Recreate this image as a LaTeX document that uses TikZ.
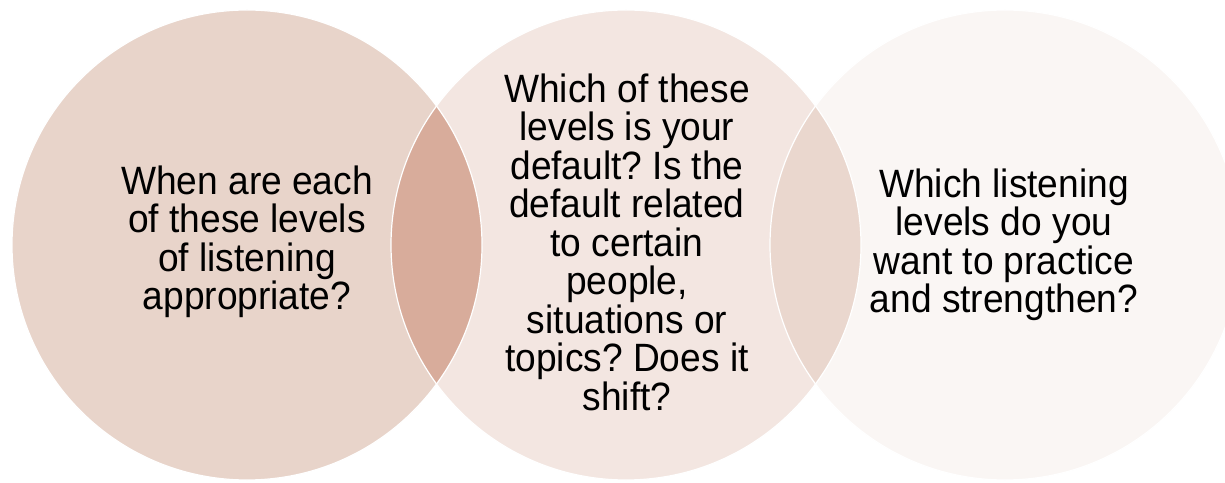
\documentclass[tikz,border=0pt]{standalone}
\usepackage{fontspec}
\setmainfont{Liberation Sans}
\newfontfamily\qfont[FakeStretch=0.94]{Liberation Sans}
\frenchspacing
\definecolor{cleft}{HTML}{E8D4CA}
\definecolor{cmid}{HTML}{F3E6E1}
\definecolor{cright}{HTML}{FAF6F4}
\definecolor{lensA}{HTML}{D8AC9B}
\definecolor{lensB}{HTML}{EAD7CE}
\tikzset{
  bubble/.style={circle, minimum size=470pt, inner sep=0pt},
  rim/.style={draw=white, line width=1.2pt},
  qtext/.style={align=center, font=\qfont\fontsize{39.5}{38.5}\selectfont\frenchspacing, text=black, inner sep=0pt}
}
\begin{document}
\begin{tikzpicture}[x=1pt,y=1pt]
\useasboundingbox (0,0) rectangle (1225,482);
\fill[white] (0,0) rectangle (1225,482);
% circles
\node[bubble, fill=cleft] (c1) at (247,237) {};
\node[bubble, fill=cmid] (c2) at (626,237) {};
\node[bubble, fill=cright] (c3) at (1005,237) {};
% lenses
\begin{scope}
  \clip (247,237) circle (235);
  \fill[lensA] (626,237) circle (235);
\end{scope}
\begin{scope}
  \clip (626,237) circle (235);
  \fill[lensB] (1005,237) circle (235);
\end{scope}
% white rims
\draw[rim] (c1.center) circle (235);
\draw[rim] (c2.center) circle (235);
\draw[rim] (c3.center) circle (235);
% texts
\node[qtext] (t1) at (247,240) {When are each\\of these levels\\of listening\\appropriate?};
\node[qtext] (t2) at (627,240) {Which of these\\levels is your\\default? Is the\\default related\\to certain\\people,\\situations or\\topics? Does it\\shift?};
\node[qtext] (t3) at (1004,237) {Which listening\\levels do you\\want to practice\\and strengthen?};
\end{tikzpicture}
\end{document}
